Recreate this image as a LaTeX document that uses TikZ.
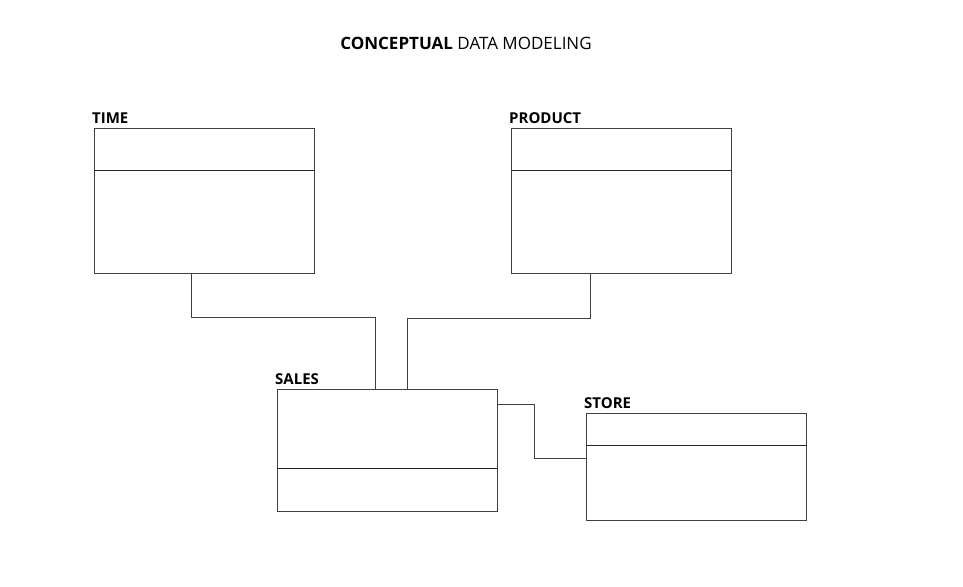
\documentclass[tikz,border=0pt]{standalone}
\usepackage{fontspec}
\setmainfont{Open Sans}
\usetikzlibrary{positioning}
\tikzset{
  entity/.style={draw=black!75, line width=0.7pt, anchor=north west, minimum width=220pt, inner sep=0pt},
  divider/.style={draw=black!85, line width=0.9pt},
  title/.style={anchor=south west, inner sep=1pt, font=\fontsize{15}{17}\selectfont\bfseries},
  link/.style={draw=black!75, line width=0.7pt}
}
\begin{document}
\begin{tikzpicture}[x=1pt,y=-1pt]
\useasboundingbox (0,0) rectangle (963,586);
% heading
\node (head) at (466,43) {\fontsize{17}{19}\selectfont\textbf{CONCEPTUAL} DATA MODELING};
% entities
\node[entity, minimum height=145pt] (time) at (94,128) {};
\node[title] [above=3pt of time.north west, anchor=south west, xshift=-3pt] {TIME};
\draw[divider] ([yshift=-42pt]time.north west) -- ([yshift=-42pt]time.north east);
\node[entity, minimum height=145pt] (product) at (511,128) {};
\node[title] [above=3pt of product.north west, anchor=south west, xshift=-3pt] {PRODUCT};
\draw[divider] ([yshift=-42pt]product.north west) -- ([yshift=-42pt]product.north east);
\node[entity, minimum height=122pt] (sales) at (277,389) {};
\node[title] [above=3pt of sales.north west, anchor=south west, xshift=-3pt] {SALES};
\draw[divider] ([yshift=-79pt]sales.north west) -- ([yshift=-79pt]sales.north east);
\node[entity, minimum height=107pt] (store) at (586,413) {};
\node[title] [above=3pt of store.north west, anchor=south west, xshift=-3pt] {STORE};
\draw[divider] ([yshift=-32pt]store.north west) -- ([yshift=-32pt]store.north east);
% links
\draw[link] ([xshift=97pt]time.south west) |- (375,317) -- ([xshift=98pt]sales.north west);
\draw[link] ([xshift=79pt]product.south west) |- (407,318) -- ([xshift=130pt]sales.north west);
\draw[link] ([yshift=-15pt]sales.north east) -| (534,458) -- ([yshift=-45pt]store.north west);
\end{tikzpicture}
\end{document}
